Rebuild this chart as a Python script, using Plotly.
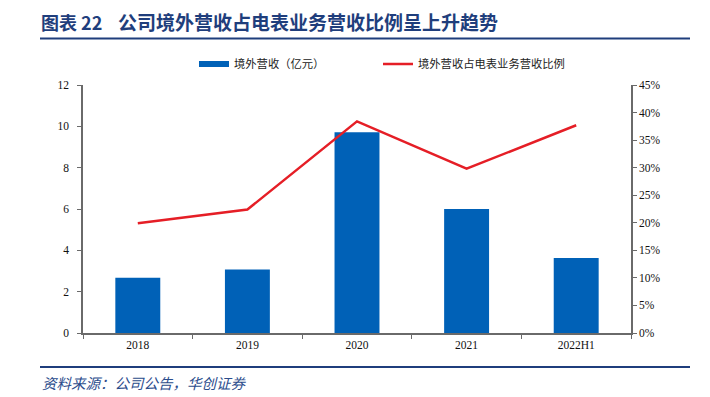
import plotly.graph_objects as go

categories = ["2018", "2019", "2020", "2021", "2022H1"]
overseas_revenue = [2.67, 3.07, 9.71, 6.0, 3.63]
overseas_share = [19.9, 22.4, 38.4, 29.8, 37.7]
left_ticks = [0, 2, 4, 6, 8, 10, 12]
right_ticks = [0, 5, 10, 15, 20, 25, 30, 35, 40, 45]
right_tick_labels = [f"{v}%" for v in right_ticks]

title_label = "图表 22"
title_text = "公司境外营收占电表业务营收比例呈上升趋势"
source_text = "资料来源：公司公告，华创证券"
bar_name = "境外营收（亿元）"
line_name = "境外营收占电表业务营收比例"

W, H = 710, 397
L, R, T, B = 83, 79, 85, 64
pw, ph = W - L - R, H - T - B

def px_x(x):
    return (x - L) / pw

def px_y(y):
    return (H - B - y) / ph

navy = "#1F3E7C"
axis_col = "#6A6A6A"
bar_col = "#0061B7"
line_col = "#E51E26"
serif = "Liberation Serif, Times New Roman, serif"
cjk = "Noto Sans CJK SC, sans-serif"

fig = go.Figure()
fig.add_trace(go.Bar(
    x=categories, y=overseas_revenue, name=bar_name, showlegend=False,
    marker=dict(color=bar_col, line=dict(width=0)), width=0.41, yaxis="y",
))
# legend sample for the bar series (wide rectangle as in the reference)
fig.add_trace(go.Scatter(
    x=[None], y=[None], name=bar_name, mode="lines", legend="legend",
    line=dict(color=bar_col, width=6), yaxis="y", hoverinfo="skip",
))
fig.add_trace(go.Scatter(
    x=categories, y=overseas_share, name=line_name, legend="legend2",
    mode="lines", line=dict(color=line_col, width=2.5), yaxis="y2",
))

tickfont = dict(family=serif, size=11.5, color="#111111")
legfont = dict(family=cjk, size=11.3, color="#222222")

fig.update_layout(
    width=W, height=H,
    margin=dict(l=L, r=R, t=T, b=B, pad=0),
    paper_bgcolor="white", plot_bgcolor="white",
    showlegend=True,
    legend=dict(orientation="h", x=px_x(194), xanchor="left", y=px_y(64), yanchor="middle",
                font=legfont, itemwidth=30, bgcolor="rgba(0,0,0,0)"),
    legend2=dict(orientation="h", x=px_x(378), xanchor="left", y=px_y(64), yanchor="middle",
                 font=legfont, itemwidth=30, bgcolor="rgba(0,0,0,0)"),
    bargap=0.59,
    xaxis=dict(type="category", showline=True, linecolor=axis_col, linewidth=1.5,
               ticks="outside", tickson="boundaries", ticklen=4, tickcolor=axis_col,
               tickfont=tickfont, showgrid=False, zeroline=False),
    yaxis=dict(range=[0, 12], tickvals=left_ticks, showline=True, linecolor=axis_col,
               linewidth=1.5, ticks="outside", ticklen=4, tickcolor=axis_col,
               tickfont=tickfont, showgrid=False, zeroline=False, ticklabelstandoff=6),
    yaxis2=dict(range=[0, 45], tickvals=right_ticks, ticktext=right_tick_labels,
                overlaying="y", side="right", showline=True, linecolor=axis_col,
                linewidth=1.5, ticks="outside", ticklen=4, tickcolor=axis_col,
                tickfont=tickfont, showgrid=False, zeroline=False),
    shapes=[
        dict(type="line", xref="paper", yref="paper", x0=px_x(40), x1=px_x(690),
             y0=px_y(38.5), y1=px_y(38.5), line=dict(color=navy, width=2)),
        dict(type="line", xref="paper", yref="paper", x0=px_x(40), x1=px_x(690),
             y0=px_y(367), y1=px_y(367), line=dict(color=navy, width=2)),
    ],
    annotations=[
        dict(text="<b>" + title_label + "</b>", xref="paper", yref="paper",
             x=px_x(39), y=px_y(22), xanchor="left", yanchor="middle", showarrow=False,
             font=dict(family=cjk, size=18, color=navy)),
        dict(text="<b>" + title_text + "</b>", xref="paper", yref="paper",
             x=px_x(116), y=px_y(22), xanchor="left", yanchor="middle", showarrow=False,
             font=dict(family=cjk, size=19, color=navy)),
        dict(text="<i>" + source_text + "</i>", xref="paper", yref="paper",
             x=px_x(40), y=px_y(382), xanchor="left", yanchor="middle", showarrow=False,
             font=dict(family=cjk, size=14.5, color="#2B4C8C")),
    ],
)

fig.write_html("out.html", config={"displayModeBar": False},
               post_script="document.body.style.margin='0';")
